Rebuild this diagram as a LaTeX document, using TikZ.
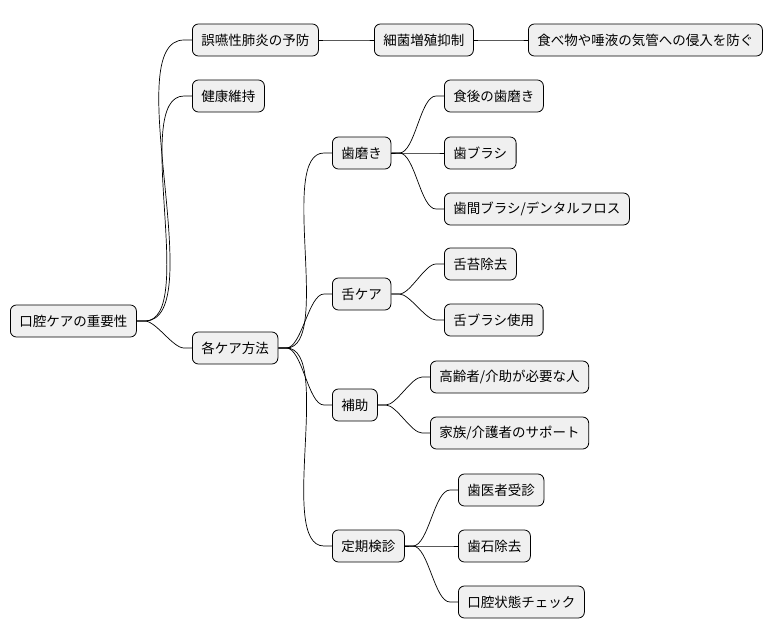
\documentclass[tikz,border=0pt]{standalone}
\usepackage{fontspec}
\newfontfamily\cjk{Noto Sans CJK JP}
\begin{document}
\begin{tikzpicture}[x=1pt,y=-1pt,
  box/.style={draw=black,line width=0.8pt,fill=black!6,rounded corners=6pt,minimum height=32pt,inner xsep=9pt,font=\cjk\fontsize{13.5pt}{15pt}\selectfont,anchor=west},
  link/.style={line width=0.7pt}]
\useasboundingbox (0,0) rectangle (782,640);
\node[box] (root) at (10,321) {口腔ケアの重要性};
\node[box] (a) at (192,40) {誤嚥性肺炎の予防};
\node[box] (a1) at (374,40) {細菌増殖抑制};
\node[box] (a2) at (528,40) {食べ物や唾液の気管への侵入を防ぐ};
\node[box] (b) at (192,96) {健康維持};
\node[box] (c) at (192,348) {各ケア方法};
\node[box] (c1) at (332,153) {歯磨き};
\node[box] (c11) at (444,96) {食後の歯磨き};
\node[box] (c12) at (444,153) {歯ブラシ};
\node[box] (c13) at (444,209) {歯間ブラシ/デンタルフロス};
\node[box] (c2) at (332,294) {舌ケア};
\node[box] (c21) at (444,264) {舌苔除去};
\node[box] (c22) at (444,320) {舌ブラシ使用};
\node[box] (c3) at (332,405) {補助};
\node[box] (c31) at (430,377) {高齢者/介助が必要な人};
\node[box] (c32) at (430,433) {家族/介護者のサポート};
\node[box] (c4) at (332,546) {定期検診};
\node[box] (c41) at (458,490) {歯医者受診};
\node[box] (c42) at (458,546) {歯石除去};
\node[box] (c43) at (458,602) {口腔状態チェック};
\foreach \p/\c in {root/a,root/b,root/c,a/a1,a1/a2,c/c1,c/c2,c/c3,c/c4,c1/c11,c1/c12,c1/c13,c2/c21,c2/c22,c3/c31,c3/c32,c4/c41,c4/c42,c4/c43}
  \draw[link] (\p.east) -- ++(8,0) to[out=0,in=180,looseness=0.6] ([xshift=-8pt]\c.west) -- (\c.west);
\end{tikzpicture}
\end{document}
